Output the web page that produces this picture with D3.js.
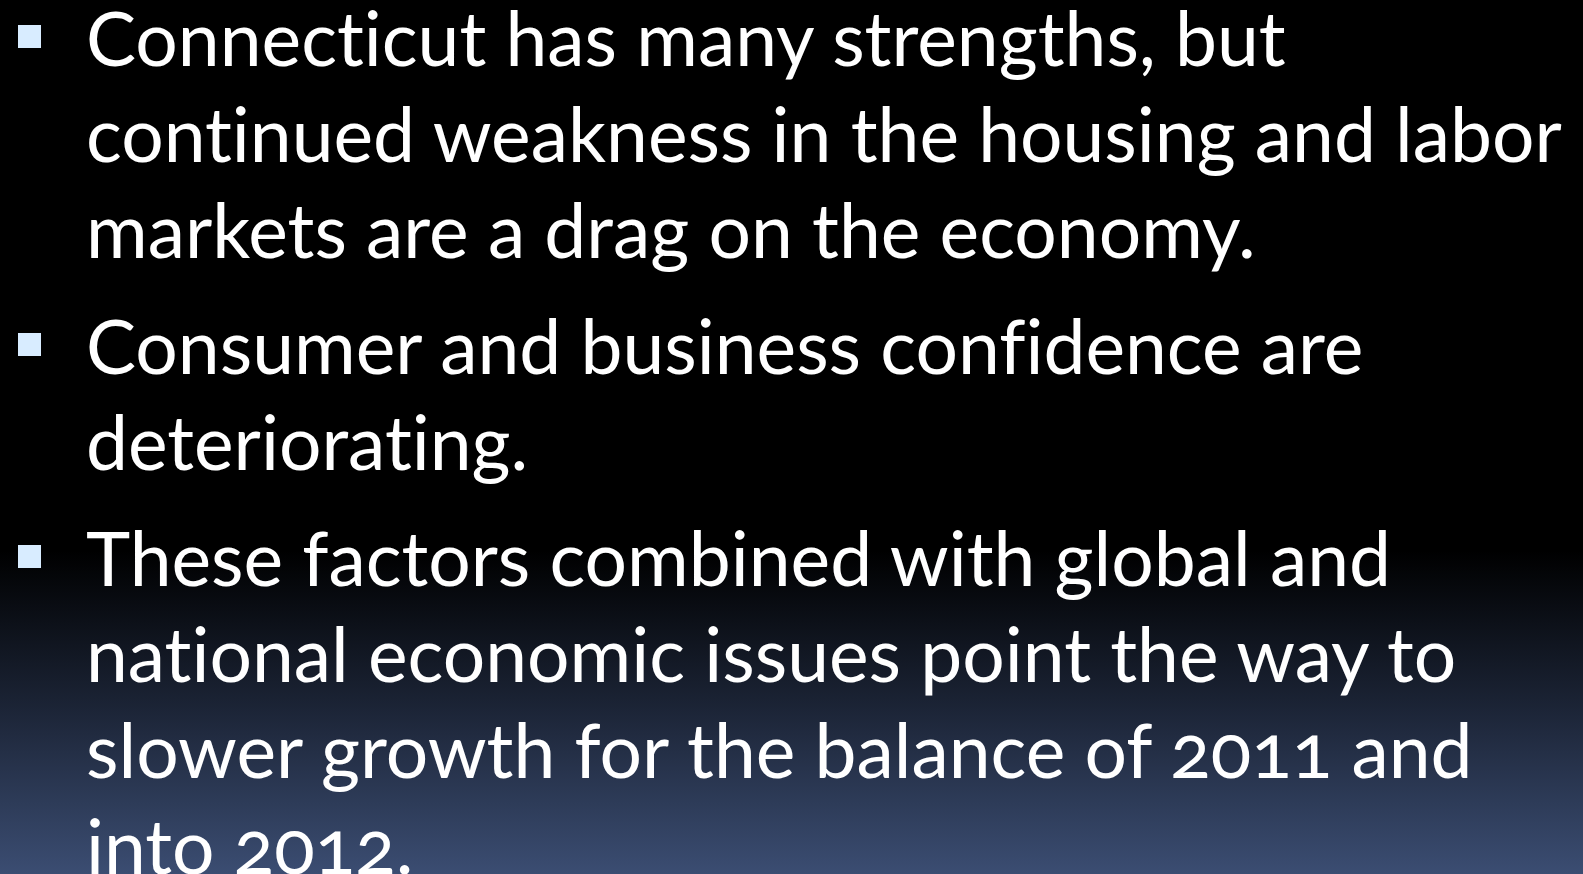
<!DOCTYPE html>
<html>
<head>
<meta charset="utf-8">
<script src="https://cdn.jsdelivr.net/npm/d3@7/dist/d3.min.js"></script>
<style>
  html, body { margin: 0; padding: 0; background: #000; overflow: hidden; }
  svg { display: block; }
  .line {
    font-family: Lato, 'Open Sans', sans-serif;
    font-weight: 400;
    fill: #fff;
    font-variant-ligatures: none;
    font-variant-numeric: oldstyle-nums;
    font-feature-settings: 'liga' 0, 'onum' 1;
  }
</style>
</head>
<body>
<svg id="slide" width="1583" height="874"></svg>
<script>
// bullet paragraphs, already broken into lines as on the slide
const bullet1 = [
  'Connecticut has many strengths, but',
  'continued weakness in the housing and labor',
  'markets are a drag on the economy.'
];
const bullet2 = [
  'Consumer and business confidence are',
  'deteriorating.'
];
const bullet3 = [
  'These factors combined with global and',
  'national economic issues point the way to',
  'slower growth for the balance of 2011 and',
  'into 2012.'
];
const bullets = [bullet1, bullet2, bullet3];

const width = 1583;
const height = 874;
const margin = { left: 86, bulletX: 18, top: 66 };
const lineStep = 96;
const paraGap = 20;
const widestTarget = 1476; // width of the longest line on the slide

const svg = d3.select('#slide');

// background gradient, black top fading into slate blue at the bottom
const defs = svg.append('defs');
const grad = defs
  .append('linearGradient')
  .attr('id', 'bg')
  .attr('x1', 0)
  .attr('y1', 0)
  .attr('x2', 0)
  .attr('y2', 1);
[[0, '#000000'], [0.63, '#000000'], [0.8, '#1a2233'], [1, '#3b4d72']].forEach(s => {
  grad.append('stop').attr('offset', s[0]).attr('stop-color', s[1]);
});
svg
  .append('rect')
  .attr('width', width)
  .attr('height', height)
  .attr('fill', 'url(#bg)');

// flatten lines with their paragraph index
const lines = [];
bullets.forEach((para, p) => {
  para.forEach((text, i) => {
    lines.push({ text, para: p, first: i === 0 });
  });
});

// line index -> baseline, paragraphs get an extra gap
const y = d3
  .scaleLinear()
  .domain([0, 1])
  .range([margin.top, margin.top + lineStep]);
const baseline = (d, i) => y(i) + d.para * paraGap;

// measure the widest line to pick a font size
const probe = svg
  .append('text')
  .attr('class', 'line')
  .style('font-size', '100px')
  .text(bullet1[1]);
const w100 = probe.node().getComputedTextLength();
probe.remove();
const fontSize = (100 * widestTarget) / w100;

const g = svg.append('g');

g
  .selectAll('text.line')
  .data(lines)
  .join('text')
  .attr('class', 'line')
  .attr('x', margin.left)
  .attr('y', baseline)
  .style('font-size', `${fontSize}px`)
  .text(d => d.text);

// square bullets in front of each paragraph
const bulletSize = 23;
g
  .selectAll('rect.bullet')
  .data(lines.map((d, i) => ({ ...d, i })).filter(d => d.first))
  .join('rect')
  .attr('class', 'bullet')
  .attr('x', margin.bulletX)
  .attr('y', d => baseline(d, d.i) - 41)
  .attr('width', bulletSize)
  .attr('height', bulletSize)
  .attr('fill', '#d8ecff');
</script>
</body>
</html>
